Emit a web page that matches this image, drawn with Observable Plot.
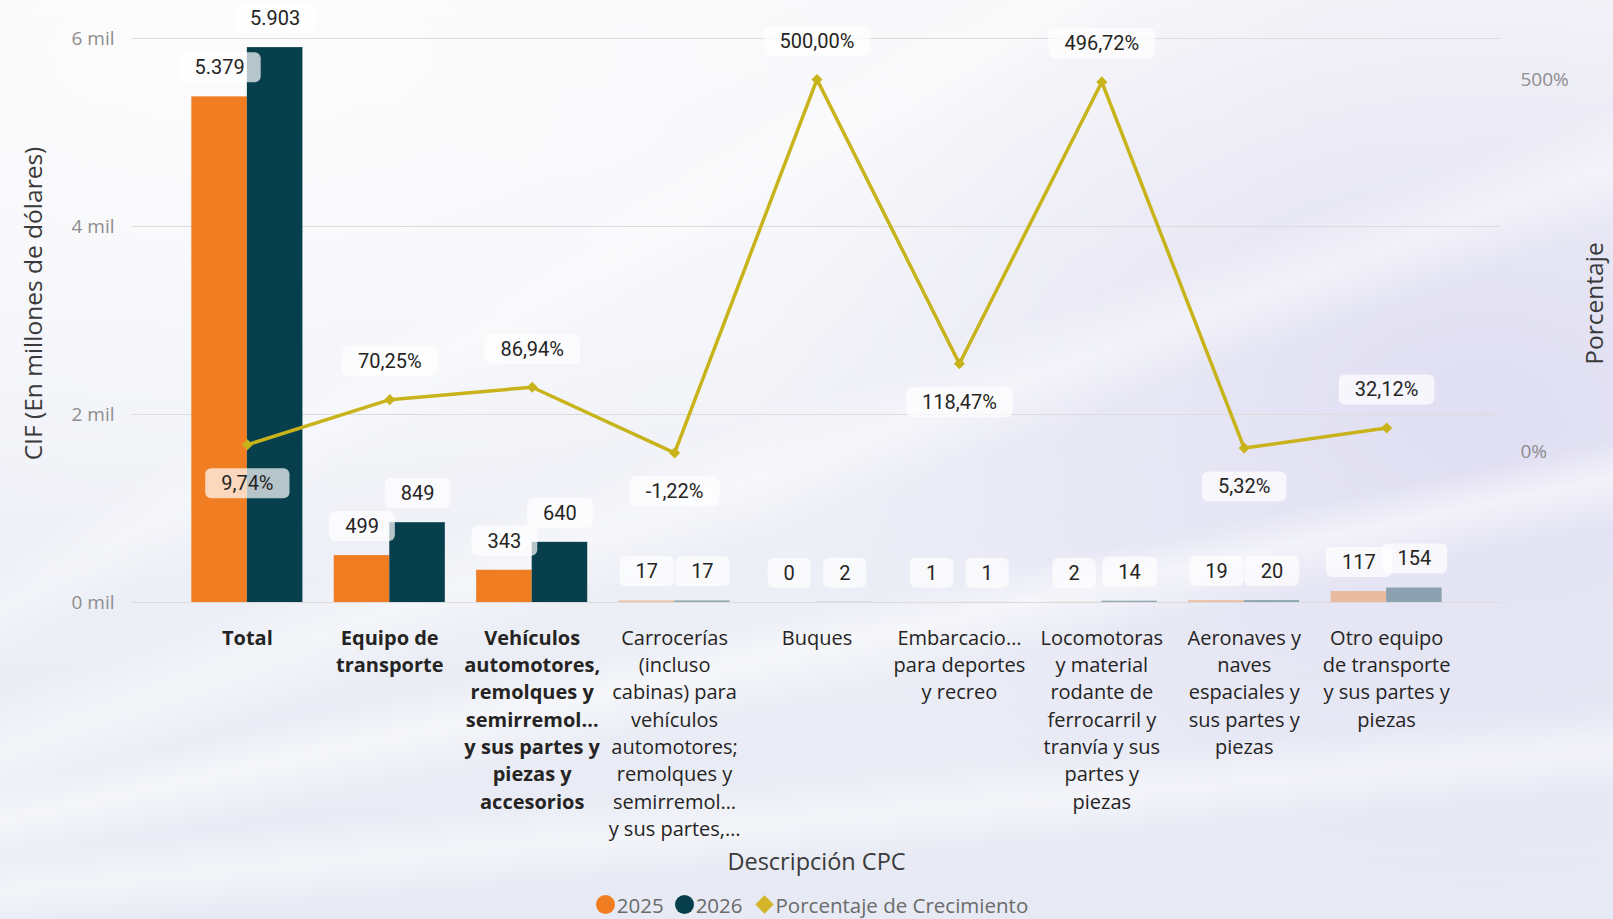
<!DOCTYPE html>
<html>
<head>
<meta charset="utf-8">
<script src="https://cdn.jsdelivr.net/npm/d3@7"></script>
<script src="https://cdn.jsdelivr.net/npm/@observablehq/plot@0.6"></script>
<style>
  html, body { margin: 0; padding: 0; }
  body {
    width: 1613px; height: 919px; overflow: hidden;
    font-family: "Open Sans", sans-serif;
    background:
      linear-gradient(168deg, rgba(255,255,255,0) 62%, rgba(255,255,255,0.55) 65%, rgba(255,255,255,0) 69%),
      linear-gradient(160deg, rgba(255,255,255,0) 46%, rgba(255,255,255,0.45) 50%, rgba(255,255,255,0) 54%),
      linear-gradient(175deg, rgba(255,255,255,0) 80%, rgba(255,255,255,0.5) 84%, rgba(255,255,255,0) 88%),
      linear-gradient(150deg, rgba(255,255,255,0) 30%, rgba(255,255,255,0.35) 33%, rgba(255,255,255,0) 36%),
      radial-gradient(ellipse 45% 55% at 92% 45%, rgba(222,220,242,0.9) 0%, rgba(222,220,242,0) 100%),
      radial-gradient(ellipse 70% 60% at 15% 5%, #fcfcfd 0%, rgba(252,252,253,0) 100%),
      linear-gradient(180deg, #f6f6f9 0%, #eef0f7 55%, #e7eaf4 100%);
  }
  #chart svg { display: block; background: transparent; overflow: visible; }
  #legend {
    height: 29px; display: flex; justify-content: center; align-items: center;
    padding-left: 22px; box-sizing: border-box;
    font-family: "Open Sans", sans-serif; font-size: 20.5px; color: #6b6b6b;
  }
  #legend .sw { display: inline-block; margin-right: 2px; }
  #legend .item { display: inline-flex; align-items: center; margin-right: 11px; }
</style>
</head>
<body>
<div id="chart"></div>
<div id="legend"></div>
<script>
// ---------------- data ----------------
const categories = [
  "Total",
  "Equipo de transporte",
  "Vehículos automotores, remolques y semirremolques y sus partes y piezas y accesorios",
  "Carrocerías (incluso cabinas) para vehículos automotores; remolques y semirremolques y sus partes",
  "Buques",
  "Embarcaciones para deportes y recreo",
  "Locomotoras y material rodante de ferrocarril y tranvía y sus partes y piezas",
  "Aeronaves y naves espaciales y sus partes y piezas",
  "Otro equipo de transporte y sus partes y piezas"
];
const tickLabels = [
  "Total",
  "Equipo de\ntransporte",
  "Vehículos\nautomotores,\nremolques y\nsemirremol…\ny sus partes y\npiezas y\naccesorios",
  "Carrocerías\n(incluso\ncabinas) para\nvehículos\nautomotores;\nremolques y\nsemirremol…\ny sus partes,…",
  "Buques",
  "Embarcacio…\npara deportes\ny recreo",
  "Locomotoras\ny material\nrodante de\nferrocarril y\ntranvía y sus\npartes y\npiezas",
  "Aeronaves y\nnaves\nespaciales y\nsus partes y\npiezas",
  "Otro equipo\nde transporte\ny sus partes y\npiezas"
];
const highlighted = [true, true, true, false, false, false, false, false, false];
const values2025 = [5379, 499, 343, 17, 0, 1, 2, 19, 117];
const values2026 = [5903, 849, 640, 17, 2, 1, 14, 20, 154];
const growthPct  = [9.74, 70.25, 86.94, -1.22, 500.00, 118.47, 496.72, 5.32, 32.12];
const yTicks = [0, 2000, 4000, 6000];
const pctTicks = [0, 500];
const seriesNames = ["2025", "2026", "Porcentaje de Crecimiento"];
const yLabel = "CIF (En millones de dólares)";
const pctLabel = "Porcentaje";
const xLabel = "Descripción CPC";

// ---------------- styling ----------------
const C2025 = "#F07D22", C2026 = "#073F4D", CLINE = "#C9B31B";
const W = 1613, H = 890;
const yMax = 6000;
const pctDomain = [-202, 555]; // secondary axis range mapped onto [0, yMax]
const pctToV = p => (p - pctDomain[0]) / (pctDomain[1] - pctDomain[0]) * yMax;
const vToPct = v => v / yMax * (pctDomain[1] - pctDomain[0]) + pctDomain[0];

const loc = d3.formatLocale({decimal: ",", thousands: ".", grouping: [3], currency: ["", ""], minus: "-"});
const fmtInt = loc.format(",d");
const fmtPct = d => loc.format(",.2f")(d) + "%";

const rows = categories.map((c, i) => ({
  cat: c, v25: values2025[i], v26: values2026[i], pct: growthPct[i],
  op: highlighted[i] ? 1 : 0.4,
  above: i > 0 && growthPct[i] > growthPct[i - 1]
}));

const xOpts = {type: "band", domain: categories, padding: 0.22, insetLeft: 28, insetRight: 27, round: false};
const common = {width: W, height: H, marginLeft: 132, marginRight: 113, marginTop: 38, marginBottom: 288};

// probe the band width from the scale
const probe = Plot.plot({...common, x: xOpts, marks: [Plot.barY(rows, {x: "cat", y: "v25"})]});
const bw = probe.scale("x").bandwidth;
const half = bw / 2;

const LABEL_FONT = "Roboto";
const labelFont = {fontFamily: LABEL_FONT, fontSize: 20, fontWeight: "normal", fill: "#252423"};

const plot = Plot.plot({
  ...common,
  style: {fontFamily: "Open Sans", fontSize: "20px", background: "transparent", overflow: "visible"},
  x: {...xOpts, label: null},
  y: {domain: [0, yMax], label: null},
  marks: [
    Plot.gridY(yTicks, {stroke: "#dcdcdc", strokeOpacity: 1}),
    Plot.axisY(yTicks, {anchor: "left", tickSize: 0, tickPadding: 18, tickFormat: d => `${d / 1000} mil`,
      fill: "#8d8d8d", fontSize: 19, label: null}),
    Plot.axisY(pctTicks.map(pctToV), {anchor: "right", tickSize: 0, tickPadding: 20,
      tickFormat: v => `${Math.round(vToPct(v))}%`, fill: "#8d8d8d", fontSize: 19, label: null}),
    Plot.axisX(categories.slice(0, 3), {tickSize: 0, tickPadding: 23, fontWeight: "bold",
      tickFormat: d => tickLabels[categories.indexOf(d)], lineHeight: 1.365, fill: "#252423", fontSize: 20, label: null}),
    Plot.axisX(categories.slice(3), {tickSize: 0, tickPadding: 23,
      tickFormat: d => tickLabels[categories.indexOf(d)], lineHeight: 1.365, fill: "#252423", fontSize: 20, label: null}),
    Plot.text([yLabel], {frameAnchor: "left", textAnchor: "middle", lineAnchor: "middle", dx: -98, dy: -17, rotate: -90, fontSize: 24.5, fill: "#3a3a3a"}),
    Plot.text([pctLabel], {frameAnchor: "right", textAnchor: "middle", lineAnchor: "middle", dx: 95, dy: -17, rotate: -90, fontSize: 24.5, fill: "#3a3a3a"}),
    Plot.text([xLabel], {frameAnchor: "bottom", textAnchor: "middle", lineAnchor: "middle", dy: 260, fontSize: 23.5, fill: "#3a3a3a"}),
    Plot.barY(rows, {x: "cat", y: "v25", fill: C2025, fillOpacity: "op", insetRight: half}),
    Plot.barY(rows, {x: "cat", y: "v26", fill: C2026, fillOpacity: "op", insetLeft: half}),
    Plot.line(rows, {x: "cat", y: d => pctToV(d.pct), stroke: CLINE, strokeWidth: 3.5}),
    Plot.dot(rows, {x: "cat", y: d => pctToV(d.pct), symbol: "diamond2", r: 5, fill: CLINE}),
    Plot.text(rows, {x: "cat", y: "v25", text: d => fmtInt(d.v25), dx: -bw / 4, dy: -29, ...labelFont}),
    Plot.text(rows, {x: "cat", y: "v26", text: d => fmtInt(d.v26), dx: bw / 4, dy: -29, ...labelFont}),
    Plot.text(rows.filter(d => d.above), {x: "cat", y: d => pctToV(d.pct), text: d => fmtPct(d.pct), dy: -38, ...labelFont}),
    Plot.text(rows.filter(d => !d.above), {x: "cat", y: d => pctToV(d.pct), text: d => fmtPct(d.pct), dy: 39, ...labelFont})
  ]
});
document.getElementById("chart").appendChild(plot);

// rounded translucent boxes behind data labels (the text groups that use the label font)
const svgNS = "http://www.w3.org/2000/svg";
plot.querySelectorAll("g").forEach(g => {
  if (g.getAttribute("font-family") !== LABEL_FONT) return;
  Array.from(g.querySelectorAll("text")).forEach(t => {
    const b = t.getBBox();
    const bh = 30, px = 16;
    const r = document.createElementNS(svgNS, "rect");
    r.setAttribute("x", b.x - px);
    r.setAttribute("y", b.y + b.height / 2 - bh / 2);
    r.setAttribute("width", b.width + 2 * px);
    r.setAttribute("height", bh);
    r.setAttribute("rx", 6);
    r.setAttribute("fill", "#ffffff");
    r.setAttribute("fill-opacity", 0.7);
    if (t.getAttribute("transform")) r.setAttribute("transform", t.getAttribute("transform"));
    t.parentNode.insertBefore(r, t);
  });
});

// legend
const legend = document.getElementById("legend");
const sw = [
  `<span class="sw" style="width:19px;height:19px;border-radius:50%;background:${C2025}"></span>`,
  `<span class="sw" style="width:19px;height:19px;border-radius:50%;background:${C2026}"></span>`,
  `<span class="sw" style="width:13px;height:13px;background:#D4B52A;transform:rotate(45deg);margin:0 5px 0 4px"></span>`
];
legend.innerHTML = seriesNames.map((n, i) => `<span class="item">${sw[i]}<span>${n}</span></span>`).join("");
</script>
</body>
</html>
